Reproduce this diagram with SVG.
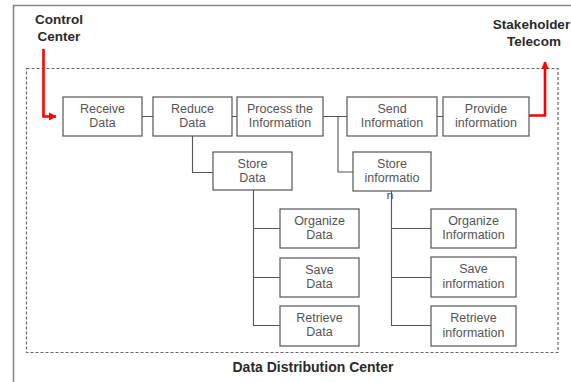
<svg xmlns="http://www.w3.org/2000/svg" width="571" height="382" viewBox="0 0 571 382">
<style>
.box{fill:#fff;stroke:#555;stroke-width:1.2}
.t{font-family:"Liberation Sans",Arial,sans-serif;font-size:12.5px;fill:#555;text-anchor:middle}
.h{font-family:"Liberation Sans",Arial,sans-serif;font-size:13.5px;font-weight:bold;fill:#2a2a2a;text-anchor:middle}
.c{fill:none;stroke:#555;stroke-width:1.1}
.r{fill:none;stroke:#f00;stroke-width:2.6}
</style>
<defs>
<marker id="ah" viewBox="0 0 10 10" refX="9" refY="5" markerWidth="3" markerHeight="3.2" orient="auto" markerUnits="strokeWidth">
<path d="M0,0 L10,5 L0,10 z" fill="#f00"/>
</marker>
<clipPath id="nclip"><rect x="380" y="191" width="20" height="8"/></clipPath>
</defs>
<rect width="571" height="382" fill="#fff"/>
<path d="M13.5,382 V5.5 H571" fill="none" stroke="#888" stroke-width="1.6"/>
<rect x="26.5" y="68.5" width="531.5" height="284" fill="none" stroke="#666" stroke-width="1.2" stroke-dasharray="3,2"/>
<text class="h" x="313" y="372" style="font-size:14px">Data Distribution Center</text>
<g id="control-center"><text class="h" x="59" y="24">Control</text><text class="h" x="59" y="40.5">Center</text></g>
<g id="stakeholder-telecom"><text class="h" x="531.5" y="29">Stakeholder</text><text class="h" x="534" y="45.5">Telecom</text></g>
<g id="connectors">
<path class="c" d="M142,116.5 H153 M232,116.5 H237 M323,116.5 H347 M437,116.5 H443"/>
<path class="c" d="M192.5,136 V172.5 H213"/>
<path class="c" d="M338,116.5 V172 H353"/>
<path class="c" d="M253.5,190 V325.5 H280 M253.5,228.5 H280 M253.5,277.5 H280"/>
<path class="c" d="M391.5,191 V325.5 H431 M391.5,228.5 H431 M391.5,277.5 H431"/>
<path class="r" d="M43.5,49 V116.5 H56" marker-end="url(#ah)"/>
<path class="r" d="M529,115.5 H545 V62" marker-end="url(#ah)"/>
</g>
<g id="receive-data"><rect class="box" x="63" y="97" width="79" height="39"/><text class="t" x="102.5" y="113">Receive</text><text class="t" x="102.5" y="127">Data</text></g>
<g id="reduce-data"><rect class="box" x="153" y="97" width="79" height="39"/><text class="t" x="192.5" y="113">Reduce</text><text class="t" x="192.5" y="127">Data</text></g>
<g id="process-info"><rect class="box" x="237" y="97" width="86" height="39"/><text class="t" x="280" y="113">Process the</text><text class="t" x="280" y="127">Information</text></g>
<g id="send-info"><rect class="box" x="347" y="97" width="90" height="39"/><text class="t" x="392" y="113">Send</text><text class="t" x="392" y="127">Information</text></g>
<g id="provide-info"><rect class="box" x="443" y="97" width="86" height="39"/><text class="t" x="486" y="113">Provide</text><text class="t" x="486" y="127">information</text></g>
<g id="store-data"><rect class="box" x="213" y="152" width="79" height="38"/><text class="t" x="252.5" y="167.5">Store</text><text class="t" x="252.5" y="181.5">Data</text></g>
<g id="store-info"><rect class="box" x="353" y="152" width="78" height="39"/><text class="t" x="392" y="168">Store</text><text class="t" x="392" y="182">informatio</text><text class="t" x="390" y="200" clip-path="url(#nclip)">n</text></g>
<g id="organize-data"><rect class="box" x="280" y="209" width="79" height="39"/><text class="t" x="319.5" y="225">Organize</text><text class="t" x="319.5" y="239">Data</text></g>
<g id="save-data"><rect class="box" x="280" y="258" width="79" height="39"/><text class="t" x="319.5" y="274">Save</text><text class="t" x="319.5" y="288">Data</text></g>
<g id="retrieve-data"><rect class="box" x="280" y="306" width="79" height="40"/><text class="t" x="319.5" y="322">Retrieve</text><text class="t" x="319.5" y="336">Data</text></g>
<g id="organize-info"><rect class="box" x="431" y="209" width="85" height="39"/><text class="t" x="473.5" y="225">Organize</text><text class="t" x="473.5" y="239">Information</text></g>
<g id="save-info"><rect class="box" x="431" y="257" width="85" height="40"/><text class="t" x="473.5" y="273">Save</text><text class="t" x="473.5" y="288">information</text></g>
<g id="retrieve-info"><rect class="box" x="431" y="306" width="85" height="40"/><text class="t" x="473.5" y="322">Retrieve</text><text class="t" x="473.5" y="337">information</text></g>
</svg>
